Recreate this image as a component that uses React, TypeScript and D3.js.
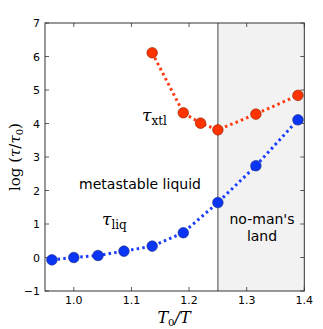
import React from "react";
import * as d3 from "d3";

const liqX = [0.962, 1.0, 1.042, 1.087, 1.136, 1.19, 1.25, 1.316, 1.389];
const liqY = [-0.07, 0.0, 0.06, 0.19, 0.34, 0.74, 1.64, 2.74, 4.11];
const xtlX = [1.136, 1.19, 1.22, 1.25, 1.316, 1.389];
const xtlY = [6.11, 4.32, 4.01, 3.81, 4.28, 4.84];
const xTicks = [1.0, 1.1, 1.2, 1.3, 1.4];
const yTicks = [-1, 0, 1, 2, 3, 4, 5, 6, 7];
const noMansLand = [1.25, 1.4];

export default function App() {
  const W = 323, H = 329;
  const L = 45, R = 304.3, T = 23, B = 291;
  const x = d3.scaleLinear().domain([0.95, 1.4]).range([L, R]);
  const y = d3.scaleLinear().domain([-1, 7]).range([B, T]);
  const line = d3.line<[number, number]>().x(d => x(d[0])).y(d => y(d[1]));
  const liq = liqX.map((v, i) => [v, liqY[i]] as [number, number]);
  const xtl = xtlX.map((v, i) => [v, xtlY[i]] as [number, number]);
  const tickFont = "DejaVu Sans, sans-serif";
  const serif = "DejaVu Serif, Liberation Serif, serif";
  const fmtY = (v: number) => (v < 0 ? "\u2212" + Math.abs(v) : String(v));
  return (
    <svg width={W} height={H} style={{ position: "absolute", left: 0, top: 0, background: "#fff" }}>
      <rect x={x(noMansLand[0])} y={T} width={x(noMansLand[1]) - x(noMansLand[0])} height={B - T} fill="#f2f2f2" />
      <line x1={x(noMansLand[0])} x2={x(noMansLand[0])} y1={T} y2={B} stroke="#888" strokeWidth={1.6} />
      {xTicks.map(t => (
        <g key={"x" + t}>
          <line x1={x(t)} x2={x(t)} y1={B} y2={B - 4} stroke="#333" strokeWidth={0.8} />
          <line x1={x(t)} x2={x(t)} y1={T} y2={T + 4} stroke="#333" strokeWidth={0.8} />
          <text x={x(t)} y={B + 13} textAnchor="middle" fontFamily={tickFont} fontSize={11} fill="#000">{t.toFixed(1)}</text>
        </g>
      ))}
      {yTicks.map(t => (
        <g key={"y" + t}>
          <line x1={L} x2={L + 4} y1={y(t)} y2={y(t)} stroke="#333" strokeWidth={0.8} />
          <line x1={R} x2={R - 4} y1={y(t)} y2={y(t)} stroke="#333" strokeWidth={0.8} />
          <text x={L - 5} y={y(t) + 4} textAnchor="end" fontFamily={tickFont} fontSize={11} fill="#000">{fmtY(t)}</text>
        </g>
      ))}
      <path d={line(liq) || ""} fill="none" stroke="#1a3cff" strokeWidth={3} strokeDasharray="2.5,3.2" />
      <path d={line(xtl) || ""} fill="none" stroke="#ff3a10" strokeWidth={3} strokeDasharray="2.5,3.2" />
      {liq.map((d, i) => (
        <circle key={"l" + i} cx={x(d[0])} cy={y(d[1])} r={5.3} fill="#0a35f5" stroke="#1a2a80" strokeWidth={0.6} />
      ))}
      {xtl.map((d, i) => (
        <circle key={"r" + i} cx={x(d[0])} cy={y(d[1])} r={5.3} fill="#ff3300" stroke="#8a2000" strokeWidth={0.6} />
      ))}
      <rect x={L} y={T} width={R - L} height={B - T} fill="none" stroke="#333" strokeWidth={1} />
      <text x={140} y={189} textAnchor="middle" fontFamily={tickFont} fontSize={14} fill="#000">metastable liquid</text>
      <text x={262} y={224} textAnchor="middle" fontFamily={tickFont} fontSize={14} fill="#000">no-man's</text>
      <text x={262} y={241} textAnchor="middle" fontFamily={tickFont} fontSize={14} fill="#000">land</text>
      <text x={142} y={121} fontFamily={serif} fontSize={17} fill="#000">
        <tspan fontStyle="italic">τ</tspan>
        <tspan fontSize={12} dy={4}>xtl</tspan>
      </text>
      <text x={102} y={225} fontFamily={serif} fontSize={17} fill="#000">
        <tspan fontStyle="italic">τ</tspan>
        <tspan fontSize={12} dy={4}>liq</tspan>
      </text>
      <text x={174} y={323} textAnchor="middle" fontFamily={serif} fontSize={16} fill="#000">
        <tspan fontStyle="italic">T</tspan>
        <tspan fontSize={10} dy={3}>0</tspan>
        <tspan dy={-3} fontStyle="italic">/T</tspan>
      </text>
      <text transform={`translate(20,${(T + B) / 2}) rotate(-90)`} textAnchor="middle" fontFamily={serif} fontSize={15} fill="#000">
        <tspan>log (</tspan>
        <tspan fontStyle="italic">τ</tspan>
        <tspan>/</tspan>
        <tspan fontStyle="italic">τ</tspan>
        <tspan fontSize={10} dy={3}>0</tspan>
        <tspan dy={-3}>)</tspan>
      </text>
    </svg>
  );
}
